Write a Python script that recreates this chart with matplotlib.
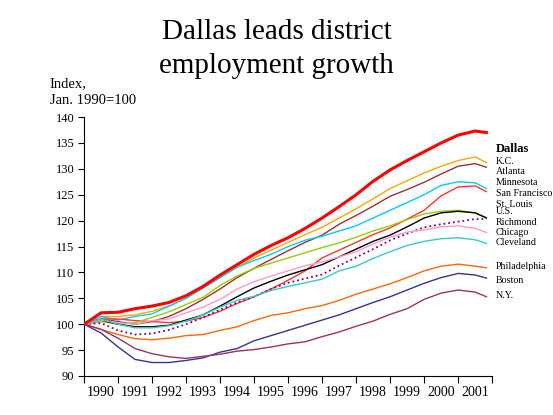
import matplotlib
matplotlib.use("Agg")
import matplotlib.pyplot as plt
import numpy as np

plt.rcParams['font.family'] = ['Liberation Serif', 'DejaVu Serif']

# half-year sample points, Jan 1990 .. late 2001
Years = [1990.0, 1990.5, 1991.0, 1991.5, 1992.0, 1992.5, 1993.0, 1993.5, 1994.0, 1994.5,
         1995.0, 1995.5, 1996.0, 1996.5, 1997.0, 1997.5, 1998.0, 1998.5, 1999.0, 1999.5,
         2000.0, 2000.5, 2001.0, 2001.5, 2001.83]

Dallas = [100, 102.2, 102.3, 103.0, 103.5, 104.2, 105.5, 107.3, 109.5, 111.5,
          113.5, 115.2, 116.7, 118.5, 120.5, 122.7, 125.0, 127.6, 129.8, 131.6,
          133.3, 135.0, 136.5, 137.3, 137.0]
KC = [100, 101.5, 101.5, 101.8, 102.5, 103.5, 105.0, 107.0, 109.0, 111.0,
      112.8, 114.3, 115.8, 117.3, 118.7, 120.5, 122.3, 124.2, 126.2, 127.7,
      129.2, 130.5, 131.6, 132.3, 131.2]
Atlanta = [100, 101.0, 100.5, 100.0, 100.5, 101.5, 103.0, 104.8, 106.8, 109.0,
           110.8, 112.5, 114.2, 115.8, 117.2, 119.3, 121.0, 122.8, 124.7, 126.0,
           127.4, 129.0, 130.5, 131.0, 130.3]
Minnesota = [100, 101.5, 100.8, 101.5, 102.0, 103.5, 105.0, 107.0, 109.0, 111.0,
             112.3, 113.5, 115.0, 116.2, 117.0, 118.0, 119.0, 120.5, 122.0, 123.5,
             125.0, 126.8, 127.5, 127.3, 126.2]
SanFrancisco = [100, 101.0, 101.0, 100.7, 100.5, 100.3, 100.6, 101.3, 102.5, 104.0,
                105.3, 106.8, 108.5, 110.3, 112.8, 114.3, 115.8, 117.3, 118.6, 120.3,
                122.0, 124.8, 126.5, 126.7, 125.6]
StLouis = [100, 100.5, 100.0, 100.3, 101.3, 102.4, 103.8, 105.2, 107.5, 109.3,
           110.8, 111.8, 112.8, 113.8, 114.8, 115.7, 116.8, 118.0, 119.0, 120.2,
           121.3, 121.8, 122.0, 121.5, 120.6]
US = [100, 100.8, 100.0, 99.5, 99.5, 99.8, 100.8, 101.8, 103.5, 105.3,
      107.0, 108.3, 109.5, 110.5, 111.5, 113.0, 114.5, 116.0, 117.2, 118.8,
      120.5, 121.5, 121.8, 121.5, 120.5]
Richmond = [100, 100.2, 98.8, 98.0, 98.2, 98.9, 100.0, 101.3, 102.8, 104.2,
            105.3, 106.8, 108.0, 108.8, 109.6, 111.3, 112.9, 114.5, 116.2, 117.5,
            118.7, 119.3, 119.8, 120.3, 120.3]
Chicago = [100, 100.8, 100.3, 100.0, 100.7, 101.0, 102.2, 103.3, 104.8, 106.8,
           108.2, 109.3, 110.3, 111.3, 112.0, 113.0, 114.0, 115.5, 116.8, 117.8,
           118.2, 118.8, 119.0, 118.5, 117.7]
Cleveland = [100, 101.0, 100.0, 99.3, 99.3, 99.7, 100.6, 101.8, 103.3, 104.6,
             105.4, 106.5, 107.3, 108.0, 108.7, 110.3, 111.2, 112.7, 114.0, 115.2,
             116.0, 116.5, 116.7, 116.3, 115.6]
Philadelphia = [100, 99.0, 98.0, 97.2, 97.0, 97.3, 97.8, 98.0, 98.8, 99.5,
                100.7, 101.7, 102.2, 103.0, 103.6, 104.6, 105.8, 106.8, 107.8, 109.0,
                110.3, 111.2, 111.6, 111.2, 110.9]
Boston = [100, 98.3, 95.6, 93.2, 92.6, 92.6, 93.0, 93.5, 94.6, 95.3,
          96.8, 97.8, 98.8, 99.8, 100.8, 101.8, 103.0, 104.2, 105.3, 106.6,
          107.9, 109.0, 109.8, 109.5, 108.9]
NY = [100, 99.0, 97.3, 95.3, 94.3, 93.7, 93.4, 93.8, 94.2, 94.8,
      95.1, 95.6, 96.2, 96.6, 97.6, 98.5, 99.6, 100.6, 101.9, 103.0,
      104.8, 106.0, 106.6, 106.2, 105.3]

Names = ["Dallas", "K.C.", "Atlanta", "Minnesota", "San Francisco", "St. Louis", "U.S.",
         "Richmond", "Chicago", "Cleveland", "Philadelphia", "Boston", "N.Y."]
Series = [Dallas, KC, Atlanta, Minnesota, SanFrancisco, StLouis, US,
          Richmond, Chicago, Cleveland, Philadelphia, Boston, NY]
LabelY = [133.8, 131.5, 129.4, 127.3, 125.3, 123.2, 121.7,
          119.7, 117.8, 115.7, 111.2, 108.5, 105.6]

Colors = ["#ff0000", "#ffa500", "#993333", "#00ccff", "#ff3333", "#99cc00", "#000000",
          "#800080", "#ff99cc", "#33cccc", "#ff6600", "#333399", "#993366"]

Fig = plt.figure(figsize=(5.53, 4.15), dpi=100)
Ax = Fig.add_axes([0.152, 0.094, 0.738, 0.624])

for Name, Values, Color in zip(Names, Series, Colors):
    Lw = 2.2 if Name == "Dallas" else 1.0
    Ls = ':' if Name == "Richmond" else '-'
    if Name == "Richmond":
        Lw = 1.3
    Ax.plot(Years, Values, color=Color, lw=Lw, ls=Ls, zorder=3 if Name == "Dallas" else 2)

for Name, Y in zip(Names, LabelY):
    if Name == "Dallas":
        Ax.text(2002.1, Y, Name, fontsize=9, fontweight='bold', va='center', ha='left', clip_on=False)
    else:
        Ax.text(2002.1, Y, Name, fontsize=7.2, va='center', ha='left', clip_on=False)

Ax.set_xlim(1990, 2002)
Ax.set_ylim(90, 140)
Ax.set_yticks(np.arange(90, 141, 5))
Ax.tick_params(axis='y', labelsize=9, direction='out', length=4, width=0.8, pad=3)
Ax.set_xticks(np.arange(1990, 2003, 1))
Ax.set_xticklabels([])
Ax.set_xticks(np.arange(1990.5, 2002, 1), minor=True)
Ax.set_xticklabels([str(y) for y in range(1990, 2002)], minor=True, fontsize=10)
Ax.tick_params(axis='x', which='major', direction='out', length=5, width=0.8)
Ax.tick_params(axis='x', which='minor', length=0, pad=7)
for S in ['top', 'right']:
    Ax.spines[S].set_visible(False)
for S in ['left', 'bottom']:
    Ax.spines[S].set_linewidth(0.8)

Fig.text(0.09, 0.742, "Index,\nJan. 1990=100", fontsize=10.5, va='bottom', ha='left', linespacing=1.35)
Fig.text(0.5, 0.955, "Dallas leads district\nemployment growth", fontsize=21, ha='center', va='top',
         linespacing=1.4)

Fig.savefig("out.png", dpi=100)
